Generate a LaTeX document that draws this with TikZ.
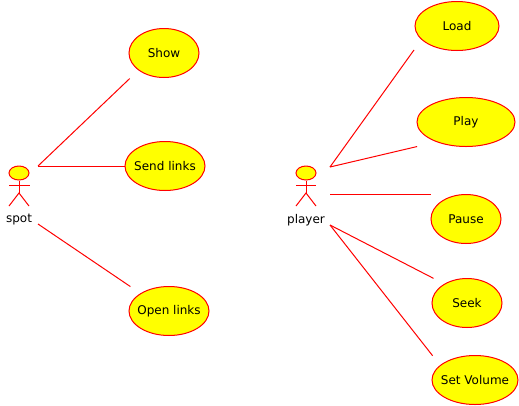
\documentclass[tikz,border=0pt]{standalone}
\usepackage{fontspec}
\setmainfont{DejaVu Sans}
\usetikzlibrary{positioning, shapes.geometric}
\definecolor{caseyellow}{RGB}{255,255,0}
\definecolor{caseline}{RGB}{255,0,0}

\begin{document}
\begin{tikzpicture}[x = 0.75pt, y = -0.75pt, line width = 0.75pt, caseline,
    usecase/.style = {ellipse, draw = caseline, fill = caseyellow, text = black, inner xsep = -12pt, inner ysep = 0pt, minimum height = 36.75pt, font = \fontsize{9}{11}\selectfont},
    head/.style = {ellipse, draw = caseline, fill = caseyellow, inner sep = 0pt, minimum width = 15pt, minimum height = 10.5pt},
    actorname/.style = {text = black, font = \fontsize{9}{11}\selectfont}]
\useasboundingbox (0, 0) rectangle (519, 405);

\node[usecase, minimum width = 52.5pt] (show) at (164, 53) {Show};
\node[usecase, minimum width = 60pt] (send) at (165, 166) {Send links};
\node[usecase, minimum width = 60pt] (open) at (169, 311) {Open links};
\node[usecase, minimum width = 63pt] (load) at (457, 26) {Load};
\node[usecase, minimum width = 73.5pt] (play) at (466, 122) {Play};
\node[usecase, minimum width = 52.5pt] (pause) at (466, 219) {Pause};
\node[usecase, minimum width = 52.5pt] (seek) at (467, 303) {Seek};
\node[usecase, minimum width = 64.5pt] (volume) at (475, 380) {Set Volume};

% spot
\node[head] (spot) at (19, 173) {};
\coordinate (spothip) at (19, 193);
\coordinate (spotl) at (9, 185);
\coordinate (spotr) at (30, 185);
\coordinate (spotfl) at (9, 206);
\coordinate (spotfr) at (29, 206);
\draw (spot) -- (spothip);
\draw (spotl) -- (spotr);
\draw (spotfl) -- (spothip) -- (spotfr);
\node[actorname] (spotname) at (19, 220) {spot};

% player
\node[head] (player) at (306, 173) {};
\coordinate (playerhip) at (306, 193);
\coordinate (playerl) at (296, 185);
\coordinate (playerr) at (316, 185);
\coordinate (playerfl) at (296, 206);
\coordinate (playerfr) at (316, 206);
\draw (player) -- (playerhip);
\draw (playerl) -- (playerr);
\draw (playerfl) -- (playerhip) -- (playerfr);
\node[actorname] (playername) at (306, 220) {player};

% connectors
\coordinate (spottop) at (38, 166);
\coordinate (spotlow) at (38, 224);
\coordinate (playertop) at (330, 167);
\coordinate (playermid) at (330, 194);
\coordinate (playerlow) at (330, 225);
\draw[shorten >= 9pt] (spottop) -- (show.214.5);
\draw (spottop) -- (send.west);
\draw[shorten >= 9pt] (spotlow) -- (open.north west);
\draw[shorten >= 9.5pt] (playertop) -- (load.201.7);
\draw[shorten >= 14.8pt] (playertop) -- (play.214);
\draw (playermid) -- (playermid -| pause.west);
\draw[shorten >= 9pt] (playerlow) -- (seek.140.3);
\draw[shorten >= 9pt] (playerlow) -- (volume.157.3);

\end{tikzpicture}
\end{document}
